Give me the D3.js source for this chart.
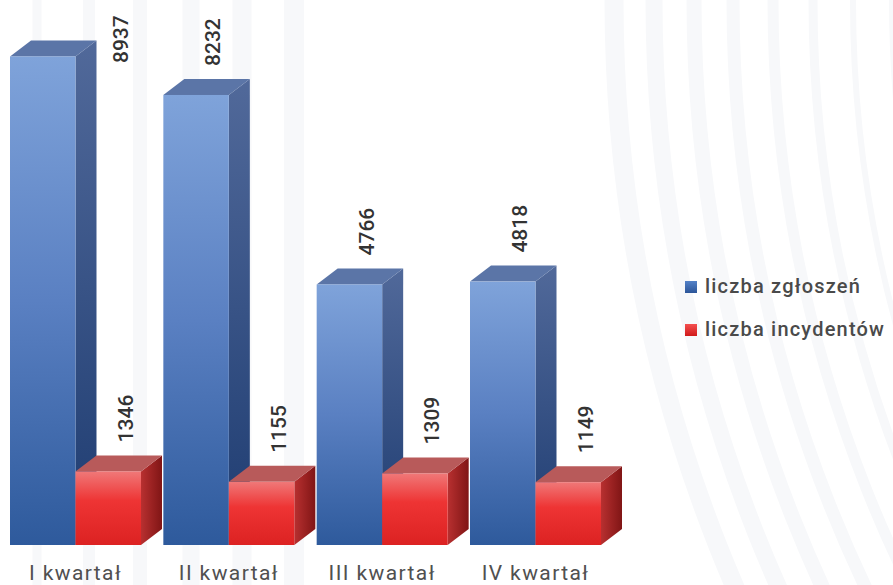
<!DOCTYPE html>
<html>
<head>
<meta charset="utf-8">
<script src="https://cdn.jsdelivr.net/npm/d3@7"></script>
<style>
  html, body { margin: 0; padding: 0; background: #ffffff; }
  svg { display: block; }
</style>
</head>
<body>
<svg id="chart" width="893" height="585"></svg>
<script>
// Quarterly counts of reports and incidents
const categories = ["I kwartał", "II kwartał", "III kwartał", "IV kwartał"];
const seriesNames = ["liczba zgłoszeń", "liczba incydentów"];
const zgloszenia = [8937, 8232, 4766, 4818];
const incydenty = [1346, 1155, 1309, 1149];
const yDomain = [0, 9000];

const W = 893, H = 585;
const svg = d3.select("#chart");
const defs = svg.append("defs");

// ---- decorative background stripes ----
const deco = svg.append("g").attr("fill", "none").attr("stroke", "#f7f8fa");
const leftStripes = [[37, 9], [89, 12], [140, 14], [191, 17], [242, 19], [294, 20]];
leftStripes.forEach(([x, w]) => {
  deco.append("line").attr("x1", x).attr("x2", x).attr("y1", 0).attr("y2", H)
    .attr("stroke-width", w);
});
const arcCx = 2100, arcCy = 0;
const rightStripes = [[614, 19], [654, 17], [694, 15], [733, 13], [773, 11], [813, 9], [853, 6], [891, 4]];
rightStripes.forEach(([x, w]) => {
  deco.append("circle").attr("cx", arcCx).attr("cy", arcCy).attr("r", arcCx - x)
    .attr("stroke-width", w);
});

// ---- gradients ----
function linGrad(id, stops, horizontal) {
  const g = defs.append("linearGradient").attr("id", id)
    .attr("x1", 0).attr("y1", 0)
    .attr("x2", horizontal ? 1 : 0).attr("y2", horizontal ? 0 : 1);
  stops.forEach(([o, c]) => g.append("stop").attr("offset", o).attr("stop-color", c));
}
linGrad("blueFront", [[0, "#7fa3da"], [0.5, "#5a80c2"], [1, "#2e5a9c"]]);
linGrad("blueSide", [[0, "#51699a"], [1, "#1e3c71"]]);
linGrad("redFront", [[0, "#f07878"], [0.4, "#ee3434"], [1, "#dc2222"]]);
linGrad("redSide", [[0, "#b83030"], [1, "#801515"]], true);
linGrad("blueKey", [[0, "#5482c8"], [1, "#2c5598"]]);
linGrad("redKey", [[0, "#f45050"], [1, "#d01a1a"]]);

const styles = {
  "liczba zgłoszeń": { front: "url(#blueFront)", side: "url(#blueSide)", top: "#5b75a7", key: "url(#blueKey)" },
  "liczba incydentów": { front: "url(#redFront)", side: "url(#redSide)", top: "#b85a5a", key: "url(#redKey)" }
};

// ---- scales ----
const x0 = d3.scaleBand().domain(categories).range([10, 601]).paddingInner(0.1457).paddingOuter(0);
const x1 = d3.scaleBand().domain(seriesNames).range([0, x0.bandwidth()]).padding(0);
const y = d3.scaleLinear().domain(yDomain).range([545, 53]);

const depth = { dx: 21, dy: -16 };

const rows = categories.map((c, i) => ({
  category: c,
  bars: [
    { series: seriesNames[0], value: zgloszenia[i] },
    { series: seriesNames[1], value: incydenty[i] }
  ]
}));

const plot = svg.append("g");
const labelLayer = svg.append("g");
const labelFont = "Roboto, 'DejaVu Sans Condensed', sans-serif";
const labelSize = 21;
const labelLen = 48;
const labelTopLimit = 15;

rows.forEach(row => {
  const g = plot.append("g").attr("transform", `translate(${x0(row.category)},0)`);
  row.bars.forEach(b => {
    const s = styles[b.series];
    const x = x1(b.series), w = x1.bandwidth();
    const yt = y(b.value), yb = y(0);
    const { dx, dy } = depth;
    // side face
    g.append("polygon")
      .attr("points", [[x + w, yt], [x + w + dx, yt + dy], [x + w + dx, yb + dy], [x + w, yb]].join(" "))
      .attr("fill", s.side);
    // top face
    g.append("polygon")
      .attr("points", [[x, yt], [x + dx, yt + dy], [x + w + dx, yt + dy], [x + w, yt]].join(" "))
      .attr("fill", s.top);
    // front face
    g.append("rect").attr("x", x).attr("y", yt).attr("width", w).attr("height", yb - yt)
      .attr("fill", s.front);

    // value label, rotated, above the back edge of the top face
    const gx = x0(row.category);
    let cx = gx + x + w / 2 + dx - 4;
    let bottom = yt + dy - 13;
    if (bottom - labelLen < labelTopLimit) {
      bottom = labelTopLimit + labelLen;
      if (bottom > yt + dy) cx = gx + x + w + dx + 24;
    }
    labelLayer.append("text")
      .attr("transform", `translate(${cx},${bottom}) rotate(-90)`)
      .attr("dy", "0.35em")
      .attr("text-anchor", "start")
      .attr("font-family", labelFont)
      .attr("font-weight", 500)
      .attr("font-size", labelSize)
      .attr("fill", "#333333")
      .text(b.value);
  });
});

// ---- category labels ----
svg.append("g").selectAll("text").data(categories).join("text")
  .attr("x", d => x0(d) + x0.bandwidth() / 2)
  .attr("y", 580)
  .attr("text-anchor", "middle")
  .attr("font-family", labelFont)
  .attr("font-size", 21)
  .attr("letter-spacing", 1.4)
  .attr("fill", "#505050")
  .text(d => d);

// ---- legend ----
const legend = svg.append("g").attr("transform", "translate(685,0)");
seriesNames.forEach((name, i) => {
  const ly = 293 + i * 43;
  legend.append("rect").attr("x", 0).attr("y", ly - 12).attr("width", 12).attr("height", 12)
    .attr("fill", styles[name].key);
  legend.append("text").attr("x", 20).attr("y", ly)
    .attr("font-family", labelFont)
    .attr("font-weight", 500)
    .attr("font-size", 20)
    .attr("letter-spacing", 1.2)
    .attr("fill", "#4a4a4a")
    .text(name);
});
</script>
</body>
</html>
